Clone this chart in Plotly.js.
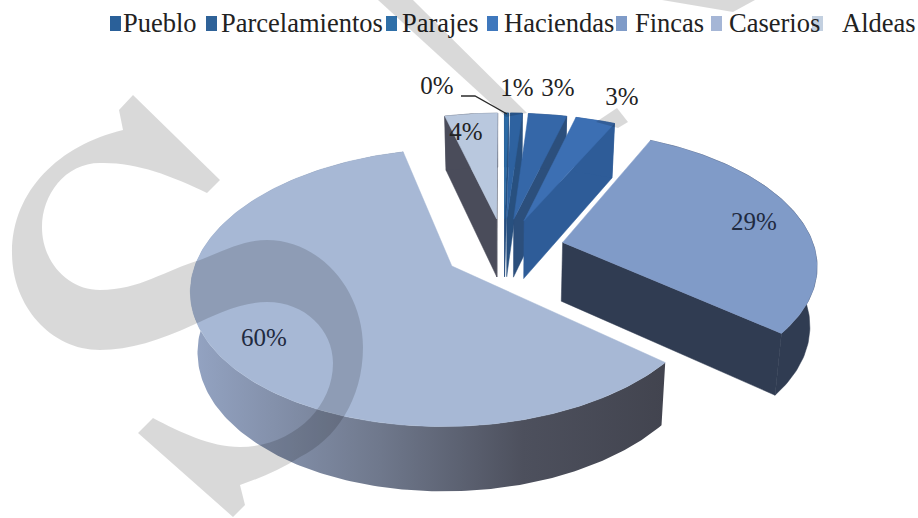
<!DOCTYPE html>
<html>
<head>
<meta charset="utf-8">
<script src="https://cdn.plot.ly/plotly-3.0.1.min.js"></script>
<style>html,body{margin:0;padding:0;background:#fff}#chart{width:918px;height:518px}</style>
</head>
<body>
<div id="chart"></div>
<script>
// ---- data ----
const categories = ['Pueblo','Parcelamientos','Parajes','Haciendas','Fincas','Caserios','Aldeas'];
const values = [0.3, 0.9, 2.9, 3, 29, 60, 4];
// ---- styles ----
const topColors  = ['#2b6aa5','#2e62a0','#3567a8','#3c6fb3','#809bc8','#a7b8d5','#b9c8de'];
const sideColors = ['#264f80','#28507f','#2c4f7c','#2e5c98','#303c52','#42444f','#4a4c5a'];
const legendColors = ['#2a6099','#2f6298','#2f6fa8','#3f78bd','#7f9bc8','#a5b6d6','#c3d0e0'];
const legendSwatchX = [110,206,386,487,616,711,812];
const legendTextX = [123,221,402,504,635,729,842];
const labelX = [437,517,558,622,754,264,466];
const labelY = [88,90,90,99,224,340,134];
const paintOrder = [6,0,1,2,3,4,5];
// ---- projection (tilted, perspective disc) ----
const CX = 504, CY = 249, RX = 252, RY = 130.4, K = 0.152, DEPTH = 59, PULL = 0.24, LOWER_SHRINK = 0.977;
function project(u, v, down) {
  const d = 1 + K * v;
  const x = RX * u / d;
  return [CX + (down ? x * LOWER_SHRINK : x), CY - RY * v / d + (down ? DEPTH / Math.sqrt(d) : 0)];
}
const total = values.reduce((a, b) => a + b, 0);
let cum = 0;
const slices = values.map(val => {
  const a0 = cum / total * 2 * Math.PI; cum += val;
  const a1 = cum / total * 2 * Math.PI;
  return {a0, a1, mid: (a0 + a1) / 2};
});
function rimAngle(s, a) { return [PULL * Math.sin(s.mid) + Math.sin(a), PULL * Math.cos(s.mid) + Math.cos(a)]; }
function apexOf(s) { return [PULL * Math.sin(s.mid), PULL * Math.cos(s.mid)]; }
function poly(points, color, name, grad) {
  const t = {type:'scatter', mode:'lines', name, x:points.map(p => p[0]), y:points.map(p => p[1]),
    fill:'toself', line:{width:0.5, color:color}, hoverinfo:'skip', showlegend:false};
  if (grad) { t.fillgradient = {type:'horizontal', colorscale:grad}; t.line = {width:0, color:'rgba(0,0,0,0)'}; }
  else t.fillcolor = color;
  return t;
}
const traces = [];
const casGrad = [[0,'#94a4c3'],[0.4,'#6f788c'],[0.7,'#4d505d'],[1,'#42444f']];
paintOrder.forEach(i => {
  const s = slices[i], n = Math.max(8, Math.ceil((s.a1 - s.a0) * 60));
  const rim = [];
  for (let j = 0; j <= n; j++) rim.push(rimAngle(s, s.a0 + (s.a1 - s.a0) * j / n));
  const ap = apexOf(s);
  const P = project(ap[0], ap[1], false);
  const M = rim[Math.floor(n / 2)], Ms = project(M[0], M[1], false);
  // radial walls that face the viewer
  [rim[0], rim[n]].forEach(c => {
    const Q = project(c[0], c[1], false);
    const lineY = P[1] + (Ms[0] - P[0]) * (Q[1] - P[1]) / (Q[0] - P[0]);
    if (Ms[1] < lineY) {
      traces.push(poly([P, Q, project(c[0], c[1], true), project(ap[0], ap[1], true), P], sideColors[i], categories[i] + ' wall'));
    }
  });
  // outer wall
  const wall = rim.map(r => project(r[0], r[1], false)).concat(rim.slice().reverse().map(r => project(r[0], r[1], true)));
  wall.push(wall[0]);
  traces.push(poly(wall, sideColors[i], categories[i] + ' rim', categories[i] === 'Caserios' ? casGrad : null));
  // top face
  const top = [P].concat(rim.map(r => project(r[0], r[1], false)), [P]);
  traces.push(poly(top, topColors[i], categories[i]));
});
// percentage labels
traces.push({type:'scatter', mode:'text', x:labelX, y:labelY,
  text:values.map(v => Math.round(v / total * 100) + '%'),
  textposition:'middle center',
  textfont:{family:'"Liberation Serif", serif', size:25, color:['#222','#222','#222','#222','#1f2a40','#1f2a40','#222']},
  hoverinfo:'skip', showlegend:false, name:'labels'});
// legend text
traces.push({type:'scatter', mode:'text', x:legendTextX, y:categories.map(() => 25), text:categories,
  textposition:'middle right', textfont:{family:'"Liberation Serif", serif', size:26.5, color:'#222'},
  hoverinfo:'skip', showlegend:false, name:'legend'});
// leader line for the 0% label
traces.push({type:'scatter', mode:'lines', x:[461,475,507], y:[96,96,114], line:{color:'#2b2b2b', width:1.3}, hoverinfo:'skip', showlegend:false, name:'leader'});

const wm = 'rgba(0,0,0,0.15)';
const shapes = [];
const swatchW = 11;
categories.forEach((c, i) => shapes.push({type:'rect', xref:'x', yref:'y', x0:legendSwatchX[i], x1:legendSwatchX[i] + swatchW, y0:16, y1:31, fillcolor:legendColors[i], line:{width:0}, layer:'below'}));
[
 'M133,95 L220,180 L207,193 C170,175 135,162 100,163 C65,163 42,195 42,227 C42,262 68,290 100,290 C140,290 165,270 200,260 C225,250 245,240 267,240 C320,240 363,290 363,347 C363,400 335,440 300,457 C280,470 260,478 240,485 L245,505 L233,517 L138,433 L153,418 C180,432 210,447 240,447 C290,447 333,410 333,363 C333,330 305,302 267,302 C240,302 215,315 193,325 C160,340 130,350 100,350 C50,350 12,305 12,253 C12,190 60,145 123,130 L119,110 Z',
 'M378,0 L413,0 L527,113 L506,117 Z',
 'M662,0 L733,12 L755,0 Z',
 'M617,108 L628,122 L618,128 L596,122 Z'
].forEach(p => shapes.push({type:'path', xref:'x', yref:'y', path:p, fillcolor:wm, line:{width:0}, layer:'above'}));

Plotly.newPlot('chart', traces, {
  width:918, height:518, margin:{l:0,r:0,t:0,b:0}, showlegend:false,
  paper_bgcolor:'#fff', plot_bgcolor:'#fff',
  xaxis:{range:[0,918], visible:false, fixedrange:true},
  yaxis:{range:[518,0], visible:false, fixedrange:true},
  shapes
}, {displayModeBar:false, staticPlot:true});
</script>
</body>
</html>
